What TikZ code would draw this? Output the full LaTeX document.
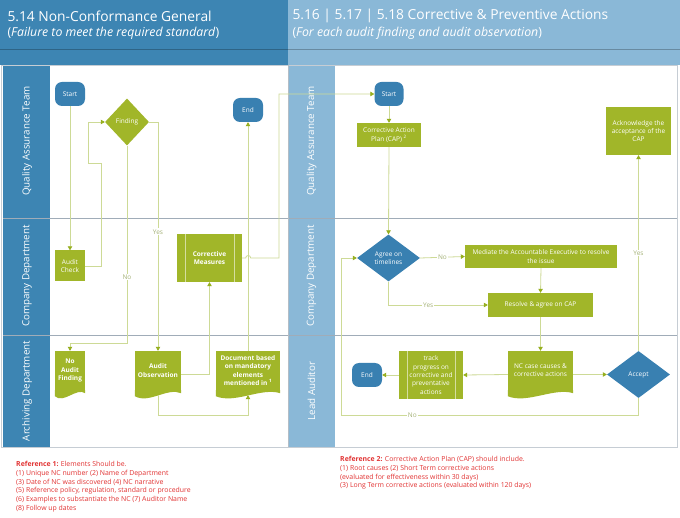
\documentclass[tikz,border=0pt]{standalone}
\usepackage{fontspec}
\setmainfont{Open Sans}
\usepackage{tikz}
\usetikzlibrary{arrows.meta, shapes.geometric}

\definecolor{hdrdark}{RGB}{61,133,179}
\definecolor{hdrlight}{RGB}{138,184,215}
\definecolor{nodegreen}{RGB}{161,182,41}
\definecolor{nodeblue}{RGB}{57,128,177}
\definecolor{flowline}{RGB}{205,218,150}
\definecolor{tipgreen}{RGB}{150,175,30}
\definecolor{lanegray}{RGB}{160,172,184}
\definecolor{lbltext}{RGB}{165,178,120}
\definecolor{reftext}{RGB}{226,52,52}

\tikzset{
  flow/.style={draw=flowline, line width=0.8pt, -{Triangle[length=4pt, width=4.5pt, color=tipgreen]}},
  lbl/.style={fill=white, text=lbltext, inner sep=1pt, font=\fontsize{6.5}{7}\selectfont},
  greenbox/.style={fill=nodegreen, text=white, align=center, inner sep=0pt, font=\fontsize{6.5}{8.3}\selectfont},
  boldbox/.style={greenbox, font=\fontsize{6.5}{8.3}\selectfont\bfseries},
  termbox/.style={fill=nodeblue, text=white, rounded corners=7pt, inner sep=0pt, minimum width=30pt, minimum height=24pt, font=\fontsize{6.5}{8}\selectfont},
  greendiam/.style={diamond, fill=nodegreen, text=white, inner sep=0pt, align=center, font=\fontsize{6.5}{8}\selectfont},
  bluediam/.style={diamond, fill=nodeblue, text=white, inner sep=0pt, align=center, font=\fontsize{6.5}{8}\selectfont},
  lanename/.style={rotate=90, text=white, font=\fontsize{9.8}{11}\selectfont},
  headtitle/.style={anchor=west, text=white, font=\fontsize{13.8}{15}\selectfont},
  headsub/.style={anchor=west, text=white, font=\fontsize{12.3}{14}\selectfont},
  reflist/.style={anchor=north west, align=left, text=reftext, inner sep=0pt, font=\fontsize{6.9}{8.8}\selectfont}
}
\newcommand{\docwave}[2]{\fill[nodegreen] (#1.south west) -- ++(0,6) .. controls +(#2,8) and +(-#2,-6) .. ([yshift=-3pt]#1.south east) -- (#1.south east) -- cycle;}
\newcommand{\predef}[1]{\draw[white!55!nodegreen, line width=0.6pt] ([xshift=8pt]#1.north west) -- ([xshift=8pt]#1.south west) ([xshift=-8pt]#1.north east) -- ([xshift=-8pt]#1.south east);}

\begin{document}
\begin{tikzpicture}[x=1pt, y=-1pt]
\useasboundingbox (0,0) rectangle (680,518);
\fill[white] (0,0) rectangle (680,518);
\fill[hdrdark] (0,0) rectangle (288,65);
\fill[hdrlight] (288,0) rectangle (680,65);
\draw[hdrdark!75!black, line width=0.6pt] (0,49) -- (288,49);
\draw[hdrlight!75!black, line width=0.6pt] (288,49) -- (680,49);
\fill[hdrdark] (3,65) rectangle (50,447);
\fill[hdrlight] (288,65) rectangle (335,447);
\draw[lanegray!60] (1.5,65) rectangle (677.5,447);
\draw[lanegray] (3,218) -- (677,218) (3,335) -- (677,335);
\draw[lanegray!80] (288,65) -- (288,447);

\node[headtitle] (ltitle) at (4,16) {5.14 Non-Conformance General};
\node[headsub] (lsub) at (4,33) {(\textit{Failure to meet the required standard})};
\node[headtitle] (rtitle) at (289,16) {5.16 | 5.17 | 5.18 Corrective \& Preventive Actions};
\node[headsub] (rsub) at (289,33) {(\textit{For each audit finding and audit observation})};

\node[lanename] (lqa) at (27,141) {Quality Assurance Team};
\node[lanename] (lcomp) at (27,276) {Company Department};
\node[lanename] (larch) at (27,391) {Archiving Department};
\node[lanename] (rqa) at (311.5,141) {Quality Assurance Team};
\node[lanename] (rcomp) at (311.5,276) {Company Department};
\node[lanename] (rlead) at (311.5,391) {Lead Auditor};

\node[termbox] (lstart) at (70,94) {Start};
\node[greendiam, minimum width=44pt, minimum height=47pt] (finding) at (127,122) {Finding};
\node[termbox] (lend) at (248,110) {End};
\node[greenbox, minimum width=30pt, minimum height=31pt] (check) at (70,266) {Audit\\Check};
\node[boldbox, minimum width=65pt, minimum height=48pt] (measures) at (209.5,258) {Corrective\\Measures};
\predef{measures}
\node[boldbox, minimum width=30pt, minimum height=39pt] (nofind) at (70,370.5) {No\\Audit\\Finding};
\docwave{nofind}{9}
\node[boldbox, minimum width=46pt, minimum height=39pt] (observ) at (158,370.5) {Audit\\Observation};
\docwave{observ}{14}
\node[boldbox, minimum width=64pt, minimum height=39pt] (docmand) at (248,370.5) {Document based\\on mandatory\\elements\\mentioned in \textsuperscript{1}};
\docwave{docmand}{19}

\node[termbox, minimum width=29pt] (rstart) at (389,94) {Start};
\node[greenbox, minimum width=64pt, minimum height=24pt] (cap) at (389,135) {Corrective Action\\Plan (CAP) \textsuperscript{2}};
\node[greenbox, minimum width=65pt, minimum height=48pt] (ack) at (638.5,131) {Acknowledge the\\acceptance of the\\CAP};
\node[bluediam, minimum width=63pt, minimum height=47pt] (agree) at (388.5,258) {Agree on\\timelines};
\node[greenbox, minimum width=152pt, minimum height=23pt] (mediate) at (541,256.5) {Mediate the Accountable Executive to resolve\\the issue};
\node[greenbox, minimum width=105pt, minimum height=24pt] (resolve) at (540.5,305) {Resolve \& agree on CAP};
\node[greenbox, minimum width=65pt, minimum height=39pt] (nccase) at (540.5,370.5) {NC case causes \&\\corrective actions};
\docwave{nccase}{19}
\node[bluediam, minimum width=63pt, minimum height=47pt] (accept) at (638.5,374.5) {Accept};
\node[greenbox, minimum width=64pt, minimum height=48pt] (track) at (431,375) {track\\progress on\\corrective and\\preventative\\actions};
\predef{track}
\node[termbox] (rend) at (367,375) {End};

\coordinate (loopa) at (101,163);
\coordinate (loopb) at (88,163);
\coordinate (nobend) at (127,343);
\coordinate (obsdown) at (158,415);
\coordinate (docdown) at (248,415);
\coordinate (jumpend) at (279,258);
\coordinate (accdown) at (638.5,415);
\coordinate (noleft) at (341,415);

\draw[flow] (lstart.south) -- (check.north);
\draw[flow] (check.east) -| (loopa) -- (loopb) |- (finding.west);
\draw[flow] (finding.south) -- node[lbl, pos=0.665] {No} (nobend) -| (nofind.north);
\draw[flow] (finding.east) -| node[lbl, pos=0.74] {Yes} (observ.north);
\draw[flow] ([yshift=-4pt]observ.east) -| (measures.south);
\draw[flow] ([yshift=-5pt]observ.south) -- (obsdown) -- (docdown) -- ([yshift=-5pt]docmand.south);
\draw[flow] (docmand.north) -- (lend.south);
\draw[flow] (measures.east) -- ++(3.5,0) arc[start angle=180, end angle=360, radius=2.5] -- (jumpend) |- (rstart.west);

\draw[flow] (rstart.south) -- (cap.north);
\draw[flow] (cap.south) -- (agree.north);
\draw[flow] (agree.east) -- node[lbl] {No} (mediate.west);
\draw[flow] (agree.south) |- node[lbl, pos=0.7] {Yes} (resolve.west);
\draw[flow] (mediate.south) -- (resolve.north);
\draw[flow] (resolve.south) -- (nccase.north);
\draw[flow] ([yshift=-4pt]nccase.west) -- (track.east);
\draw[flow] (track.west) -- (rend.east);
\draw[flow] ([yshift=-4pt]nccase.east) -- (accept.west);
\draw[flow] (accept.north) -- node[lbl] {Yes} (ack.south);
\draw[flow] (accept.south) -- (accdown) -- node[lbl, pos=0.76] {No} (noleft) |- (agree.west);

\node[reflist] (ref1) at (16,461) {\textbf{Reference 1:} Elements Should be.\\(1) Unique NC number (2) Name of Department\\(3) Date of NC was discovered (4) NC narrative\\(5) Reference policy, regulation, standard or procedure\\(6) Examples to substantiate the NC (7) Auditor Name\\(8) Follow up dates};
\node[reflist] (ref2) at (340,456) {\textbf{Reference 2:} Corrective Action Plan (CAP) should include.\\(1) Root causes (2) Short Term corrective actions\\(evaluated for effectiveness within 30 days)\\(3) Long Term corrective actions (evaluated within 120 days)};
\end{tikzpicture}
\end{document}
